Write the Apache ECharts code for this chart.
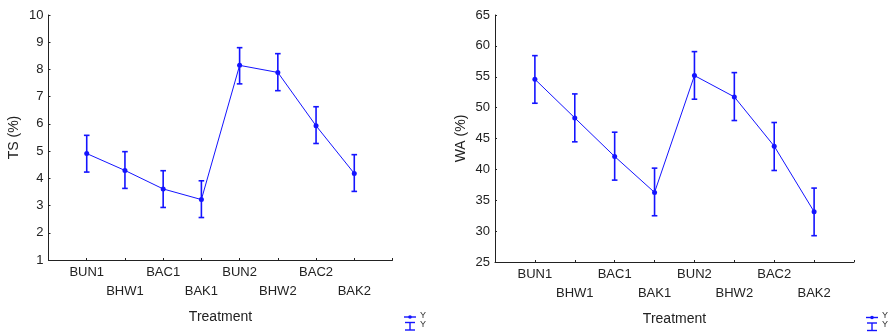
<!DOCTYPE html>
<html>
<head>
<meta charset="utf-8">
<script src="https://cdn.jsdelivr.net/npm/echarts@6/dist/echarts.min.js"></script>
<style>
html,body{margin:0;padding:0;background:#fff;}
#c{width:893px;height:334px;}
</style>
</head>
<body>
<div id="c"></div>
<script>
// ---- data ----
var categories = ['BUN1','BHW1','BAC1','BAK1','BUN2','BHW2','BAC2','BAK2'];
var tsMean  = [4.91, 4.29, 3.61, 3.22, 8.15, 7.89, 5.93, 4.18];
var tsLow   = [4.23, 3.63, 2.93, 2.56, 7.47, 7.22, 5.28, 3.52];
var tsHigh  = [5.58, 4.98, 4.28, 3.91, 8.80, 8.58, 6.63, 4.87];
var waMean  = [54.60, 48.34, 42.09, 36.27, 55.19, 51.74, 43.76, 33.14];
var waLow   = [50.71, 44.46, 38.26, 32.49, 51.36, 47.91, 39.82, 29.26];
var waHigh  = [58.42, 52.22, 46.02, 40.20, 59.07, 55.67, 47.59, 36.97];
var tsTicks = {min: 1, max: 10, interval: 1};
var waTicks = {min: 25, max: 65, interval: 5};

var BLUE = '#1414ff';
var FONT = 'Liberation Sans, Arial, sans-serif';
var axisData = [''].concat(categories, ['']);

function xAxisDef(gridIndex) {
  return {
    type: 'category', gridIndex: gridIndex, data: axisData, boundaryGap: false,
    name: 'Treatment', nameLocation: 'middle', nameGap: 50,
    nameTextStyle: {fontFamily: FONT, fontSize: 14, color: '#222'},
    axisLine: {lineStyle: {color: '#222', width: 1}},
    axisTick: {inside: true, length: 2, lineStyle: {color: '#222'}, interval: 0},
    axisLabel: {
      interval: 0, margin: 3, fontFamily: FONT, fontSize: 13, color: '#222', lineHeight: 19,
      formatter: function (v, i) { return (i % 2 === 0 && v) ? '\n' + v : v; }
    },
    splitLine: {show: false}
  };
}
function yAxisDef(gridIndex, name, t) {
  return {
    type: 'value', gridIndex: gridIndex, min: t.min, max: t.max, interval: t.interval,
    name: name, nameLocation: 'middle', nameGap: 27, nameRotate: 90,
    nameTextStyle: {fontFamily: FONT, fontSize: 14, color: '#222'},
    axisLine: {show: true, lineStyle: {color: '#222', width: 1}},
    axisTick: {show: true, inside: true, length: 2, lineStyle: {color: '#222'}},
    axisLabel: {margin: 5, fontFamily: FONT, fontSize: 13, color: '#222'},
    splitLine: {show: false}
  };
}
function errData(lo, hi) {
  return lo.map(function (l, i) { return [i + 1, l, hi[i]]; });
}
function lineData(m) {
  return m.map(function (v, i) { return [i + 1, v]; });
}
function errSeries(idx, lo, hi) {
  return {
    type: 'custom', xAxisIndex: idx, yAxisIndex: idx, data: errData(lo, hi), z: 3,
    renderItem: function (params, api) {
      var x = api.value(0);
      var a = api.coord([x, api.value(1)]);
      var b = api.coord([x, api.value(2)]);
      var w = 2.8;
      var st = {stroke: BLUE, lineWidth: 1.6};
      return {type: 'group', children: [
        {type: 'line', shape: {x1: a[0], y1: a[1], x2: b[0], y2: b[1]}, style: st},
        {type: 'line', shape: {x1: a[0] - w, y1: a[1], x2: a[0] + w, y2: a[1]}, style: st},
        {type: 'line', shape: {x1: b[0] - w, y1: b[1], x2: b[0] + w, y2: b[1]}, style: st}
      ]};
    }
  };
}
function lineSeries(idx, m) {
  return {
    type: 'line', xAxisIndex: idx, yAxisIndex: idx, data: lineData(m), z: 4,
    symbol: 'circle', symbolSize: 5, showSymbol: true,
    lineStyle: {color: BLUE, width: 1}, itemStyle: {color: BLUE}, animation: false
  };
}
function legendGraphics(x, y) {
  var st = {stroke: BLUE, lineWidth: 1.4};
  var ts = {fill: '#333', font: '9px ' + FONT};
  return [
    {type: 'line', shape: {x1: x, y1: y, x2: x + 12, y2: y}, style: st},
    {type: 'circle', shape: {cx: x + 6, cy: y, r: 1.8}, style: {fill: BLUE}},
    {type: 'text', x: x + 16, y: y - 6, style: Object.assign({text: 'Y'}, ts)},
    {type: 'line', shape: {x1: x + 6, y1: y + 5.5, x2: x + 6, y2: y + 13}, style: st},
    {type: 'line', shape: {x1: x + 1, y1: y + 5.5, x2: x + 11, y2: y + 5.5}, style: st},
    {type: 'line', shape: {x1: x + 1, y1: y + 13, x2: x + 11, y2: y + 13}, style: st},
    {type: 'text', x: x + 16, y: y + 3, style: Object.assign({text: 'Y'}, ts)}
  ];
}

var chart = echarts.init(document.getElementById('c'), null, {renderer: 'canvas'});
chart.setOption({
  animation: false,
  backgroundColor: '#fff',
  grid: [
    {left: 48.5, top: 15, width: 344, height: 245},
    {left: 495, top: 15, width: 359, height: 247}
  ],
  xAxis: [xAxisDef(0), xAxisDef(1)],
  yAxis: [yAxisDef(0, 'TS (%)', tsTicks), yAxisDef(1, 'WA (%)', waTicks)],
  series: [
    errSeries(0, tsLow, tsHigh), lineSeries(0, tsMean),
    errSeries(1, waLow, waHigh), lineSeries(1, waMean)
  ],
  graphic: legendGraphics(404, 317).concat(legendGraphics(866, 317.5))
});
</script>
</body>
</html>
